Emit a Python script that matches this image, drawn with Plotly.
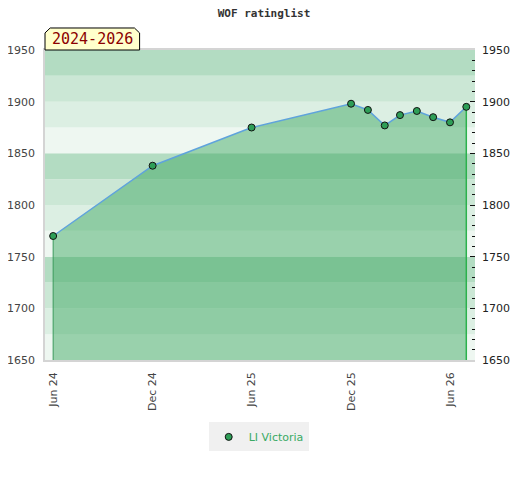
import plotly.graph_objects as go

# ---- data ----
dates = ["2024-06-01", "2024-12-01", "2025-06-01", "2025-12-01", "2026-01-01",
         "2026-02-01", "2026-03-01", "2026-04-01", "2026-05-01", "2026-06-01", "2026-07-01"]
ratings = [1770, 1838, 1875, 1898, 1892, 1877, 1887, 1891, 1885, 1880, 1895]
series_name = "LI Victoria"
tick_dates = ["2024-06-01", "2024-12-01", "2025-06-01", "2025-12-01", "2026-06-01"]
tick_labels = ["Jun 24", "Dec 24", "Jun 25", "Dec 25", "Jun 26"]
y_min, y_max = 1650, 1950
band_step = 25
period_label = "2024-2026"
title_text = "WOF ratinglist"

band_colors = ["#eef7f1", "#dcefe3", "#cbe7d5", "#b3dcc2"]  # bottom-up, repeating

fig = go.Figure()

# fill under curve
fig.add_trace(go.Scatter(
    x=dates, y=ratings, mode="lines", fill="tozeroy",
    fillcolor="rgba(57,166,94,0.47)", line=dict(width=0, color="rgba(0,0,0,0)"),
    showlegend=False, hoverinfo="skip"))

# vertical edge lines
fig.add_trace(go.Scatter(
    x=[dates[0], dates[0]], y=[y_min, ratings[0]], mode="lines",
    line=dict(color="#3b9a5c", width=1), showlegend=False, hoverinfo="skip"))
fig.add_trace(go.Scatter(
    x=[dates[-1], dates[-1]], y=[y_min, ratings[-1]], mode="lines",
    line=dict(color="#2bb24c", width=1.5), showlegend=False, hoverinfo="skip"))

# line
fig.add_trace(go.Scatter(
    x=dates, y=ratings, mode="lines",
    line=dict(color="#5fa3dc", width=1.5), showlegend=False, hoverinfo="skip"))

# markers (legend entry)
fig.add_trace(go.Scatter(
    x=dates, y=ratings, mode="markers", name=series_name,
    marker=dict(color="#2e9e57", size=7, line=dict(color="#111", width=1))))

# invisible trace to activate right axis
fig.add_trace(go.Scatter(
    x=[dates[0]], y=[ratings[0]], yaxis="y2", mode="markers",
    marker=dict(opacity=0), showlegend=False, hoverinfo="skip"))

# bands
shapes = []
levels = list(range(y_min, y_max, band_step))
for i, lv in enumerate(levels):
    shapes.append(dict(type="rect", xref="paper", yref="y", x0=0, x1=1,
                       y0=lv, y1=lv + band_step, fillcolor=band_colors[i % 4],
                       line=dict(width=0), layer="below"))

# label box with cut top corners
bx1 = 0.22
by1 = 1.071
cx, cy = 0.012, 0.016
shapes.append(dict(type="path", xref="paper", yref="paper",
                   path=f"M 0,1 L 0,{by1-cy} L {cx},{by1} L {bx1-cx},{by1} L {bx1},{by1-cy} L {bx1},1 Z",
                   fillcolor="#ffffcc", line=dict(color="#000", width=1), layer="above"))

fig.update_layout(
    width=512, height=472,
    margin=dict(l=37, r=45, t=42, b=120),
    paper_bgcolor="white", plot_bgcolor="white",
    font=dict(family="DejaVu Sans", size=11, color="#444"),
    title=dict(text=f"<b>{title_text}</b>", x=0.5, xanchor="center", y=0.989, yanchor="middle",
               font=dict(family="DejaVu Sans Mono", size=11, color="#333")),
    shapes=shapes,
    showlegend=True,
    legend=dict(orientation="h", x=0.497, xanchor="center", y=-0.248, yanchor="middle",
                bgcolor="#f0f0f0", font=dict(color="#3aaa64", size=11),
                itemwidth=30),
    annotations=[dict(text=period_label, xref="paper", yref="paper", x=bx1/2, y=(1+by1)/2,
                      xanchor="center", yanchor="middle",
                      showarrow=False, font=dict(family="DejaVu Sans Mono", size=15, color="#8b0000"))],
    xaxis=dict(type="date", range=["2024-05-17", "2026-07-17"], automargin=False,
               tickvals=tick_dates, ticktext=tick_labels, tickangle=-90,
               ticks="outside", ticklen=6, tickcolor="rgba(0,0,0,0)",
               showgrid=False, zeroline=False,
               showline=True, linecolor="#d4d4d4", linewidth=1.5, mirror=True),
    yaxis=dict(range=[y_min, y_max], dtick=50, showgrid=False, zeroline=False, automargin=False,
               ticks="outside", ticklen=6, tickcolor="rgba(0,0,0,0)",
               showline=True, linecolor="#d4d4d4", linewidth=1.5),
    yaxis2=dict(range=[y_min, y_max], dtick=50, overlaying="y", side="right", automargin=False,
                showgrid=False, zeroline=False, showline=False,
                ticks="inside", ticklen=5, tickcolor="#111", tickwidth=1,
                ticklabelstandoff=6,
                minor=dict(dtick=10, ticks="inside", ticklen=3, tickcolor="#111", tickwidth=1),
                tickfont=dict(color="#222")),
)

fig.write_html("out.html")
